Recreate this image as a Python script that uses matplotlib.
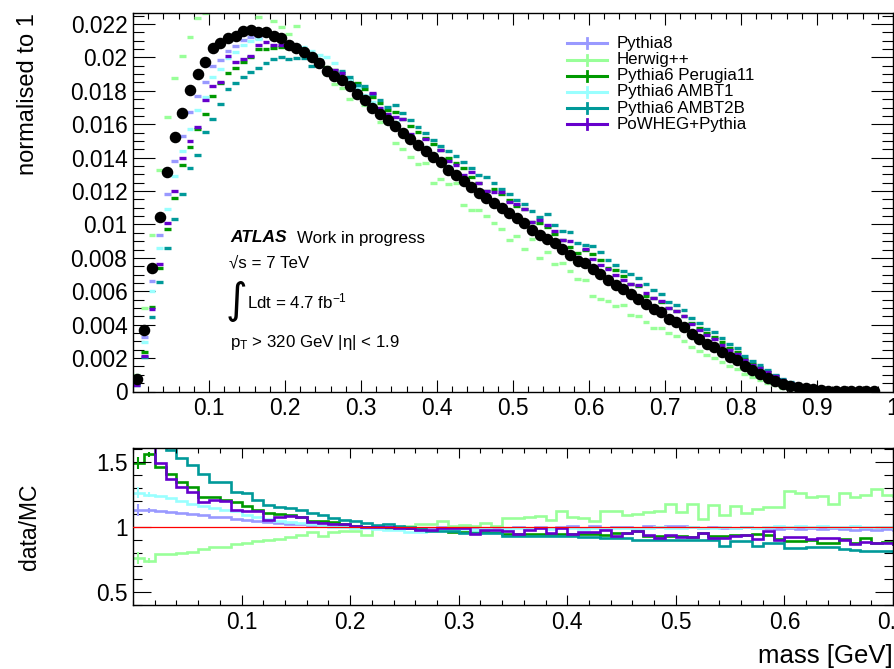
import numpy as np
import matplotlib
matplotlib.use("Agg")
import matplotlib.pyplot as plt
from matplotlib.lines import Line2D
from matplotlib.ticker import MultipleLocator, FixedLocator, FixedFormatter

plt.rcParams['font.family'] = ['Liberation Sans', 'DejaVu Sans']
plt.rcParams['mathtext.fontset'] = 'custom'
plt.rcParams['mathtext.rm'] = 'Liberation Sans'
plt.rcParams['mathtext.it'] = 'Liberation Sans:italic'
plt.rcParams['mathtext.bf'] = 'Liberation Sans:bold'

# jet mass bins, 0.01 GeV wide, 0.00 - 0.98
bin_width = 0.01
n_bins = 98

# data, normalised to 1
data = [
    0.00077, 0.0037, 0.0074, 0.01046, 0.01313, 0.01521, 0.01668, 0.01804, 0.01901, 0.01974,
    0.02055, 0.02085, 0.02119, 0.02131, 0.02158, 0.02162, 0.0215, 0.02154, 0.02129, 0.02115,
    0.02075, 0.02055, 0.02031, 0.0200, 0.01966, 0.01921, 0.01886, 0.01864, 0.01826, 0.01779,
    0.01746, 0.0170, 0.01664, 0.01624, 0.0159, 0.0155, 0.01511, 0.01477, 0.01442, 0.01406,
    0.01372, 0.01327, 0.01299, 0.0126, 0.01224, 0.01189, 0.01158, 0.01126, 0.01096, 0.01067,
    0.01037, 0.01007, 0.00968, 0.00938, 0.00913, 0.00889, 0.00853, 0.0082, 0.0078, 0.0077,
    0.00731, 0.00701, 0.00666, 0.00638, 0.00611, 0.00582, 0.00556, 0.00522, 0.00493, 0.00473,
    0.00433, 0.00414, 0.00384, 0.00344, 0.00315, 0.00285, 0.00265, 0.00235, 0.00206, 0.00186,
    0.00152, 0.00126, 0.00107, 0.00083, 0.00063, 0.00047, 0.00034, 0.00028, 0.00018, 0.00012,
    0.00007, 0.00005, 0.00004, 0.00003, 0.00002, 0.00002, 0.00001, 0.00001,
]

# data/MC ratio for each generator
ratio_pythia8 = [
    1.13, 1.13, 1.12, 1.115, 1.11, 1.10, 1.09, 1.08, 1.075, 1.065,
    1.055, 1.05, 1.04, 1.03, 1.025, 1.02, 1.015, 1.01, 1.01, 1.005,
    1.0, 1.0, 0.995, 1.0, 0.99, 0.995, 0.99, 0.995, 1.0, 0.995,
    1.0, 0.995, 0.99, 1.0, 0.995, 1.0, 0.99, 1.0, 0.995, 1.0,
    1.005, 0.995, 1.01, 0.995, 1.0, 1.0, 0.995, 1.005, 1.0, 1.005,
    1.01, 1.0, 0.995, 1.0, 0.995, 0.99, 1.0, 0.99, 0.995, 0.985,
    0.99, 0.985, 0.99, 0.985, 0.99, 0.985, 0.98, 0.985, 0.98, 0.985,
    0.98, 0.975, 0.975, 0.97, 0.965, 0.96, 0.96, 0.955, 0.95, 0.945,
    0.94, 0.93, 0.92, 0.91, 0.90, 0.88, 0.86, 0.85, 0.85, 0.85,
    0.85, 0.85, 0.85, 0.85, 0.85, 0.85, 0.85, 0.85,
]
ratio_herwig = [
    0.76, 0.74, 0.79, 0.79, 0.80, 0.81, 0.83, 0.85, 0.85, 0.87,
    0.88, 0.89, 0.90, 0.91, 0.92, 0.94, 0.96, 0.93, 0.96, 0.97,
    0.97, 0.94, 0.99, 0.99, 1.0, 1.01, 1.025, 1.025, 1.043, 1.01,
    1.018, 1.005, 1.03, 1.01, 1.069, 1.069, 1.076, 1.086, 1.056, 1.124,
    1.076, 1.069, 1.043, 1.127, 1.127, 1.094, 1.102, 1.119, 1.127, 1.178,
    1.112, 1.178, 1.063, 1.17, 1.094, 1.163, 1.107, 1.137, 1.153, 1.153,
    1.28, 1.265, 1.23, 1.24, 1.178, 1.265, 1.234, 1.247, 1.293, 1.247,
    1.24, 1.25, 1.27, 1.28, 1.29, 1.30, 1.32, 1.34, 1.36, 1.38,
    1.42, 1.46, 1.52, 1.60, 1.75, 2.1, 2.3, 2.5, 2.5, 2.5,
    2.5, 2.5, 2.5, 2.5, 2.5, 2.5, 2.5, 2.5,
]
ratio_perugia11 = [
    1.49, 1.56, 1.46, 1.41, 1.35, 1.31, 1.23, 1.23, 1.21, 1.19,
    1.16, 1.13, 1.11, 1.10, 1.095, 1.08, 1.05, 1.05, 1.035, 1.025,
    1.01, 1.0, 1.0, 0.995, 0.99, 0.99, 0.979, 0.979, 0.979, 0.963,
    0.963, 0.963, 0.963, 0.963, 0.95, 0.95, 0.95, 0.95, 0.95, 0.95,
    0.95, 0.95, 0.95, 0.941, 0.954, 0.954, 0.966, 0.928, 0.928, 0.932,
    0.932, 0.923, 0.954, 0.928, 0.928, 0.941, 0.941, 0.95, 0.941, 0.908,
    0.89, 0.89, 0.898, 0.88, 0.88, 0.908, 0.877, 0.916, 0.877, 0.882,
    0.87, 0.86, 0.85, 0.84, 0.83, 0.82, 0.81, 0.80, 0.79, 0.78,
    0.77, 0.76, 0.74, 0.72, 0.70, 0.68, 0.66, 0.65, 0.65, 0.65,
    0.65, 0.65, 0.65, 0.65, 0.65, 0.65, 0.65, 0.65,
]
ratio_ambt1 = [
    1.265, 1.25, 1.235, 1.22, 1.20, 1.18, 1.16, 1.15, 1.13, 1.12,
    1.09, 1.08, 1.06, 1.05, 1.04, 1.03, 1.02, 1.01, 1.0, 1.0,
    0.995, 0.99, 0.985, 0.98, 0.975, 0.96, 0.96, 0.975, 0.98, 0.98,
    0.985, 0.98, 0.985, 0.98, 0.985, 0.99, 0.985, 0.99, 0.985, 0.99,
    0.99, 0.985, 0.99, 0.995, 0.99, 0.995, 0.99, 0.995, 1.0, 0.995,
    0.995, 1.0, 0.995, 0.99, 1.0, 0.995, 1.0, 0.995, 1.0, 1.005,
    1.0, 1.005, 1.0, 1.005, 1.0, 1.0, 1.005, 1.0, 1.0, 1.0,
    0.99, 0.985, 0.98, 0.975, 0.97, 0.965, 0.96, 0.955, 0.95, 0.94,
    0.93, 0.92, 0.91, 0.90, 0.89, 0.87, 0.85, 0.85, 0.85, 0.85,
    0.85, 0.85, 0.85, 0.85, 0.85, 0.85, 0.85, 0.85,
]
ratio_ambt2b = [
    1.9, 1.8, 1.66, 1.59, 1.53, 1.475, 1.41, 1.35, 1.345, 1.27,
    1.26, 1.21, 1.17, 1.155, 1.145, 1.13, 1.11, 1.095, 1.07, 1.056,
    1.043, 1.03, 1.018, 1.025, 1.01, 1.0, 0.995, 0.97, 0.97, 0.97,
    0.954, 0.954, 0.954, 0.954, 0.928, 0.928, 0.928, 0.932, 0.932, 0.932,
    0.932, 0.92, 0.92, 0.916, 0.916, 0.916, 0.903, 0.903, 0.903, 0.903,
    0.903, 0.898, 0.898, 0.898, 0.857, 0.89, 0.89, 0.857, 0.877, 0.877,
    0.84, 0.84, 0.845, 0.845, 0.845, 0.83, 0.82, 0.813, 0.813, 0.813,
    0.81, 0.80, 0.79, 0.78, 0.77, 0.76, 0.75, 0.74, 0.73, 0.72,
    0.71, 0.70, 0.68, 0.66, 0.64, 0.62, 0.60, 0.60, 0.60, 0.60,
    0.60, 0.60, 0.60, 0.60, 0.60, 0.60, 0.60, 0.60,
]
ratio_powheg = [
    1.9, 1.75, 1.49, 1.37, 1.305, 1.27, 1.195, 1.205, 1.20, 1.13,
    1.125, 1.125, 1.055, 1.08, 1.085, 1.075, 1.035, 1.03, 1.025, 1.02,
    1.005, 1.0, 1.0, 1.0, 0.995, 0.995, 0.979, 0.979, 0.992, 0.992,
    0.992, 0.95, 0.979, 0.979, 0.966, 0.95, 0.979, 0.992, 0.954, 0.992,
    0.95, 0.96, 0.96, 0.974, 0.932, 0.954, 0.966, 0.941, 0.916, 0.941,
    0.923, 0.923, 0.954, 0.916, 0.916, 0.928, 0.941, 0.908, 0.966, 0.903,
    0.923, 0.923, 0.908, 0.916, 0.916, 0.903, 0.872, 0.882, 0.877, 0.877,
    0.87, 0.86, 0.855, 0.85, 0.85, 0.845, 0.84, 0.84, 0.83, 0.82,
    0.80, 0.78, 0.75, 0.72, 0.70, 0.68, 0.66, 0.65, 0.65, 0.65,
    0.65, 0.65, 0.65, 0.65, 0.65, 0.65, 0.65, 0.65,
]
# stat. error of the ratio in the first two bins
ratio_err_first = [0.045, 0.02]

generators = ["Pythia8", "Herwig++", "Pythia6 Perugia11", "Pythia6 AMBT1",
              "Pythia6 AMBT2B", "PoWHEG+Pythia"]
colors = ["#9999ff", "#99ff99", "#009900", "#99ffff", "#009999", "#6600cc"]
ratios = [ratio_pythia8, ratio_herwig, ratio_perugia11, ratio_ambt1,
          ratio_ambt2b, ratio_powheg]

edges = np.arange(n_bins + 1) * bin_width
centers = edges[:-1] + bin_width / 2
data = np.array(data)

W, H = 895, 669
fig = plt.figure(figsize=(W / 100, H / 100), dpi=100)


def px_box(left, top, right, bottom):
    return [left / W, 1 - bottom / H, (right - left) / W, (bottom - top) / H]


ax = fig.add_axes(px_box(133, 13, 893, 391.5))
axr = fig.add_axes(px_box(133, 448, 893, 605))

# ---- top panel ----
for name, c, r in zip(generators, colors, ratios):
    mc = data / np.array(r)
    ax.errorbar(centers, mc, xerr=0.0045, fmt='none', ecolor=c, elinewidth=2.4)
ax.plot(centers, data, 'o', color='black', ms=7.3, zorder=5)

ax.set_xlim(0, 1)
ax.set_ylim(0, 0.02266)
xt = [0.1, 0.2, 0.3, 0.4, 0.5, 0.6, 0.7, 0.8, 0.9, 1.0]
ax.xaxis.set_major_locator(FixedLocator(xt))
ax.xaxis.set_major_formatter(FixedFormatter(['%g' % v for v in xt]))
ax.xaxis.set_minor_locator(MultipleLocator(0.02))
yt = [round(0.002 * i, 3) for i in range(12)]
ax.yaxis.set_major_locator(FixedLocator(yt))
ax.yaxis.set_major_formatter(FixedFormatter(['%g' % v for v in yt]))
ax.yaxis.set_minor_locator(MultipleLocator(0.0005))
ax.tick_params(which='both', direction='in', top=True, right=True, width=0.8,
               labelsize=16.4, pad=4)
ax.tick_params(axis='x', which='major', length=8.5)
ax.tick_params(axis='x', which='minor', length=4.3)
ax.tick_params(axis='y', which='major', length=15.5)
ax.tick_params(axis='y', which='minor', length=8)

# legend
for i, (name, c) in enumerate(zip(generators, colors)):
    y = 1 - (43.3 + 16.2 * i) / H
    fig.add_artist(Line2D([567 / W, 607 / W], [y, y], color=c, lw=2.2))
    fig.add_artist(Line2D([587 / W, 587 / W], [y - 5 / H, y + 5 / H], color=c, lw=2.0))
    fig.text(617 / W, y, name, fontsize=12.2, va='center', ha='left')

# labels in the top panel
fig.text(230 / W, 1 - 238 / H, 'ATLAS', fontsize=12.5, fontweight='bold',
         fontstyle='italic', va='center')
fig.text(297 / W, 1 - 238 / H, 'Work in progress', fontsize=12.2, va='center')
fig.text(229 / W, 1 - 263 / H, '\u221as = 7 TeV', fontsize=12.2, va='center')
fig.text(226 / W, 1 - 301 / H, '\u222b', fontsize=30, va='center',
         family=['DejaVu Sans'])
fig.text(247 / W, 1 - 301 / H, 'Ldt = 4.7 fb$^{-1}$', fontsize=12.2, va='center')
fig.text(230 / W, 1 - 342 / H, 'p$_{\\mathrm{T}}$ > 320 GeV |\u03b7| < 1.9',
         fontsize=12.2, va='center')

# ---- ratio panel ----
for name, c, r in zip(generators, colors, ratios):
    axr.stairs(r, edges, color=c, lw=1.9, baseline=None)
    axr.errorbar(centers[:2], r[:2], yerr=ratio_err_first, fmt='none',
                 ecolor=c, elinewidth=1.5)
axr.axhline(1.0, color='red', lw=0.9, zorder=10)

axr.set_xlim(0, 0.7)
axr.set_ylim(0.4, 1.608)
xt2 = [0.1, 0.2, 0.3, 0.4, 0.5, 0.6, 0.7]
axr.xaxis.set_major_locator(FixedLocator(xt2))
axr.xaxis.set_major_formatter(FixedFormatter(['%g' % v for v in xt2]))
axr.xaxis.set_minor_locator(MultipleLocator(0.02))
yt2 = [0.5, 1.0, 1.5]
axr.yaxis.set_major_locator(FixedLocator(yt2))
axr.yaxis.set_major_formatter(FixedFormatter(['%g' % v for v in yt2]))
axr.yaxis.set_minor_locator(MultipleLocator(0.1))
axr.tick_params(which='both', direction='in', top=True, right=True, width=0.8,
                labelsize=16.4, pad=4)
axr.tick_params(axis='x', which='major', length=7)
axr.tick_params(axis='x', which='minor', length=3.5)
axr.tick_params(axis='y', which='major', length=13)
axr.tick_params(axis='y', which='minor', length=6.5)

for a in (ax, axr):
    for s in a.spines.values():
        s.set_linewidth(1.0)

# axis titles
fig.text(28 / W, 1 - 13 / H, 'normalised to 1', fontsize=17, rotation=90,
         ha='center', va='top')
fig.text(30 / W, 1 - 527 / H, 'data/MC', fontsize=16.5, rotation=90,
         ha='center', va='center')
fig.text(893 / W, 1 - 656 / H, 'mass [GeV]', fontsize=18.5, ha='right', va='center')

fig.savefig('out.png', dpi=100)
